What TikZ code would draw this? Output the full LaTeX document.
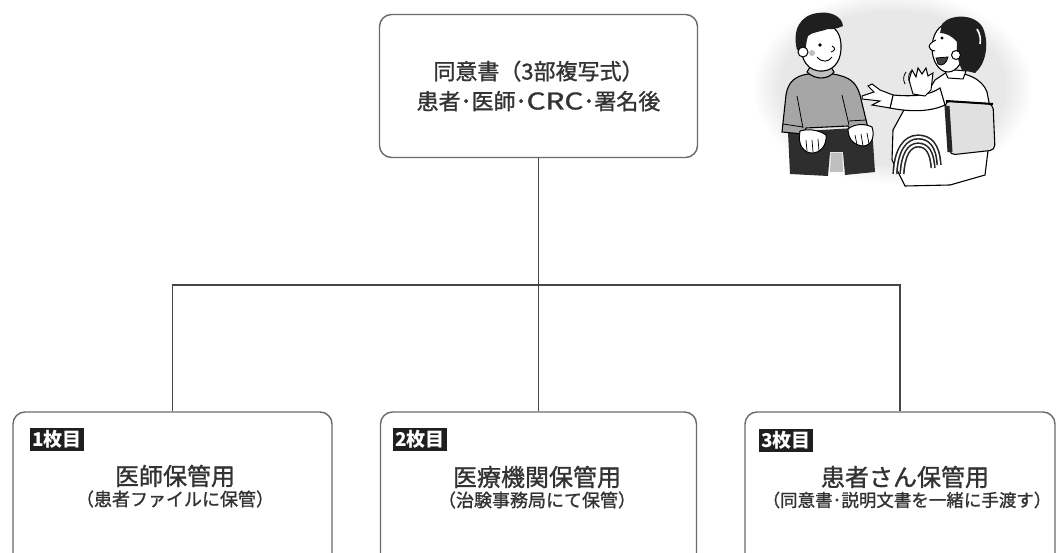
\documentclass[tikz,border=0pt]{standalone}
\usepackage{graphicx}
\usepackage{fontspec}
\setmainfont{Noto Sans CJK JP}
\newfontfamily\medfont{Noto Sans CJK JP}[FakeBold=1.2]
\definecolor{ink}{HTML}{333333}
\definecolor{frame}{HTML}{6a6a6a}
\definecolor{wire}{HTML}{454545}
\begin{document}
\begin{tikzpicture}[x=1pt,y=-1pt,
  card/.style={draw=frame, line width=1.4pt, rounded corners=12pt, fill=white, inner sep=0pt},
  tag/.style={fill=black!88, text=white, anchor=north west, inner xsep=2pt, inner ysep=0pt,
    minimum height=23pt, font=\bfseries\fontsize{19}{19}\selectfont},
  maintxt/.style={text=ink, inner sep=0pt, font=\medfont\fontsize{24}{24}\selectfont},
  subtxt/.style={text=ink, inner sep=0pt, font=\medfont\fontsize{18}{18}\selectfont},
  wireline/.style={draw=wire, line width=1.4pt},
  outl/.style={draw=black, line width=1.1pt}]
\useasboundingbox (0,0) rectangle (1058,553);
\clip (0,0) rectangle (1058,553);
\fill[white] (0,0) rectangle (1058,553);

% ---------- illustration: patient and doctor in conversation ----------
% soft grey oval backdrop
\foreach \k in {0,...,11} {
  \pgfmathsetmacro\s{1-\k*0.018}
  \pgfmathsetmacro\g{\k*0.8}
  \fill[black!\g] (893,88) ellipse ({142*\s} and {97*\s});
}
\fill[black!9] (893,88) ellipse ({142*0.79} and {97*0.79});

% patient: trousers
\fill[black!82] (788,132) -- (872,127) -- (875,172) -- (845,175) -- (843,152) -- (830,152) -- (828,176) -- (790,174) -- cycle;
\fill[black!25] (831,153) -- (842,153) -- (843,172) -- (830,172) -- cycle;
% patient: sweater
\filldraw[fill=black!35, outl] (808,74) .. controls (795,76) and (788,82) .. (786,95) -- (782,132) -- (803,134)
  -- (806,128) -- (848,126) -- (851,130) -- (868,128) -- (860,95) .. controls (856,82) and (850,77) .. (833,74) -- cycle;
\draw[line width=0.8pt] (797,96) -- (803,128) (842,95) -- (849,125);
\draw[line width=0.8pt] (783,124) -- (803,127) (849,121) -- (866,120);
% patient: collar
\filldraw[fill=black!25, outl] (807,72) .. controls (815,80) and (828,80) .. (834,72) -- (831,67) -- (810,67) -- cycle;
% patient: head
\filldraw[fill=white, outl] (801,42) .. controls (800,60) and (808,72) .. (823,71) .. controls (836,70) and (842,58) .. (841,44)
  .. controls (840,30) and (832,24) .. (820,24) .. controls (808,24) and (801,32) .. (801,42) -- cycle;
\fill[black!88] (797,50) .. controls (792,30) and (800,15) .. (818,13) .. controls (830,11) and (842,16) .. (843,26)
  .. controls (838,28) and (833,30) .. (828,29) .. controls (820,32) and (812,32) .. (808,36)
  .. controls (806,42) and (806,48) .. (805,52) -- cycle;
\filldraw[fill=white, line width=1pt] (803,52) circle (5);
\fill (820,45) circle (1.8);
\draw[line width=0.9pt] (832,46) .. controls (836,48) and (835,51) .. (831,52);
\draw[line width=0.9pt] (817,57) .. controls (822,63) and (829,62) .. (832,57);
\fill[black!25] (812,53) circle (3);
% patient: hands on knees
\filldraw[fill=white, line width=1pt] (800,131) .. controls (797,145) and (804,153) .. (812,153)
  .. controls (820,153) and (827,146) .. (826,135) .. controls (818,129) and (806,129) .. (800,131) -- cycle;
\draw[line width=0.7pt] (806,140) -- (807,151) (812,140) -- (813,152) (818,139) -- (819,151);
\filldraw[fill=white, line width=1pt] (848,129) .. controls (848,141) and (856,146) .. (864,146)
  .. controls (872,145) and (875,136) .. (872,127) .. controls (864,123) and (854,124) .. (848,129) -- cycle;
\draw[line width=0.7pt] (855,135) -- (857,145) (861,134) -- (863,146) (867,133) -- (869,144);

% doctor: coat
\filldraw[fill=white, outl] (947,72) .. controls (965,72) and (982,78) .. (987,92) -- (992,118) -- (985,175)
  -- (950,185) -- (905,186) -- (892,160) -- (893,130) -- (905,108) -- (925,96) -- (935,80) -- cycle;
% doctor: sleeve and palm-up hand
\filldraw[fill=white, outl] (940,88) .. controls (930,95) and (915,97) .. (893,95) -- (890,108)
  .. controls (910,112) and (930,112) .. (945,105) -- cycle;
\filldraw[fill=white, line width=1pt] (893,95) -- (880,90) -- (872,84) -- (868,86) -- (874,92) -- (862,96)
  -- (862,99) -- (880,101) -- (872,105) -- (890,108) -- cycle;
% doctor: raised hand with motion strokes
\filldraw[fill=white, line width=1pt] (913,94) -- (909,80) -- (912,70) -- (916,77) -- (918,68) -- (922,74)
  -- (926,68) -- (928,76) -- (933,73) -- (931,90) -- (925,96) -- cycle;
\draw[line width=0.8pt] (906,72) .. controls (903,76) and (903,80) .. (905,84)
  (911,71) .. controls (908,75) and (908,79) .. (910,83);
% doctor: collar
\filldraw[fill=white, line width=1pt] (944,69) -- (966,71) -- (963,79) -- (948,78) -- cycle;
% doctor: head
\filldraw[fill=white, outl] (948,48) ellipse (16 and 24);
\fill[black!88] (942,24) .. controls (950,14) and (975,13) .. (983,28) .. controls (990,45) and (985,65) .. (975,73)
  -- (962,70) .. controls (958,62) and (956,52) .. (957,42) .. controls (952,36) and (946,33) .. (940,33) -- cycle;
\draw[white, line width=1.6pt] (977,29) .. controls (980,34) and (981,39) .. (980,44);
\filldraw[fill=white, line width=1pt] (956,55) circle (4.5);
\filldraw[fill=white, line width=1pt] (936,40) .. controls (927,44) and (927,50) .. (935,51);
\fill (942,38) circle (1.7);
\filldraw[fill=black!75, line width=0.8pt] (936,58) -- (948,57) .. controls (947,63) and (942,67) .. (938,64) -- cycle;
% doctor: chair back and tubular frame
\filldraw[fill=black!12, outl, rounded corners=5pt] (945,101) -- (993,104) -- (995,150) -- (950,155) -- cycle;
\draw[line width=5pt, black!85] (947,106) -- (950,152);
\draw[line width=2pt] (946,101) -- (993,104);
\draw[black!85, line width=1.6pt, double=white, double distance=2pt]
  (895,174) .. controls (896,150) and (905,137) .. (918,137) .. controls (930,137) and (938,145) .. (939,165);
\draw[black!85, line width=1.6pt, double=white, double distance=2pt]
  (902,174) .. controls (903,155) and (909,145) .. (918,145) .. controls (927,145) and (932,152) .. (933,168);

% ---------- flow: consent form and its three copies ----------
\node[card, minimum width=318pt, minimum height=143pt, align=center, text=ink,
  font=\medfont\fontsize{22}{30}\selectfont] (top) at (538.5,86)
  {同意書（3部複写式）\\患者･医師･\scalebox{1.35}[1.05]{CRC}･署名後};

\node[card, minimum width=319pt, minimum height=153pt] (b1) at (172.5,488.5) {};
\node[card, minimum width=316pt, minimum height=153pt] (b2) at (538.5,488.5) {};
\node[card, minimum width=310pt, minimum height=153pt] (b3) at (900,488.5) {};

\node[tag] (g1) at (30,428) {1枚目};
\node[tag] (g2) at (393,428) {2枚目};
\node[tag] (g3) at (759,429) {3枚目};

\node[maintxt] (m1) at (175,476) {医師保管用};
\node[subtxt] (s1) at (175,499) {（患者ファイルに保管）};
\node[maintxt] (m2) at (537,477) {医療機関保管用};
\node[subtxt] (s2) at (537,500) {（治験事務局にて保管）};
\node[maintxt] (m3) at (905,477) {患者さん保管用};
\node[subtxt, font=\medfont\fontsize{17.5}{17.5}\selectfont] (s3) at (907,500) {（同意書･説明文書を一緒に手渡す）};

\coordinate (hub) at (538.5,285);
\draw[wireline] (top.south) -- (hub) -- (b2.north);
\draw[wireline] (b1.north) -- (b1.north |- hub) -- (b3.north |- hub) -- (b3.north);
\end{tikzpicture}
\end{document}
